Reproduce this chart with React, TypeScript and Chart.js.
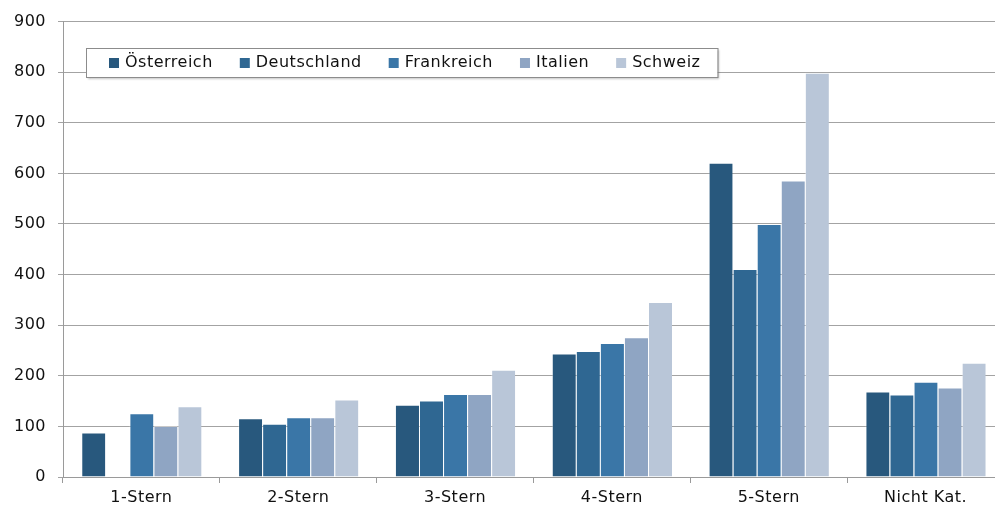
import React, { useEffect, useRef } from "react";
import { Chart, registerables } from "chart.js";

Chart.register(...registerables);

const categories = ["1-Stern", "2-Stern", "3-Stern", "4-Stern", "5-Stern", "Nicht Kat."];
const seriesNames = ["Österreich", "Deutschland", "Frankreich", "Italien", "Schweiz"];
const oesterreich = [88, 116, 143, 244, 621, 169];
const deutschland = [null, 105, 151, 249, 411, 163];
const frankreich = [126, 118, 164, 265, 500, 188];
const italien = [101, 118, 164, 276, 586, 177];
const schweiz = [140, 153, 212, 346, 799, 226];
const seriesColors = ["#28587d", "#2f6792", "#3a76a7", "#8fa5c3", "#b9c6d8"];
const yTicks = [0, 100, 200, 300, 400, 500, 600, 700, 800, 900];

const FONT = "'DejaVu Sans', sans-serif";
const SPACING = "0.5px";

const spacingPlugin = {
  id: "spacing",
  beforeUpdate(chart: any) {
    (chart.ctx as any).letterSpacing = SPACING;
  },
  beforeLayout(chart: any) {
    (chart.ctx as any).letterSpacing = SPACING;
  },
  beforeDraw(chart: any) {
    (chart.ctx as any).letterSpacing = SPACING;
  },
};

const legendPlugin = {
  id: "boxLegend",
  afterDatasetsDraw(chart: any) {
    const ctx = chart.ctx as CanvasRenderingContext2D;
    ctx.save();
    (ctx as any).letterSpacing = SPACING;
    ctx.font = `16px ${FONT}`;
    const left = 86;
    const top = 48;
    const h = 29;
    const padL = 23;
    const sq = 10;
    const gapSq = 6;
    const gapItem = 27;
    const padR = 17;
    let w = padL;
    const widths = seriesNames.map((n) => ctx.measureText(n).width);
    widths.forEach((tw, i) => {
      w += sq + gapSq + tw + (i < widths.length - 1 ? gapItem : padR);
    });
    ctx.shadowColor = "rgba(0,0,0,0.25)";
    ctx.shadowOffsetX = 1.5;
    ctx.shadowOffsetY = 1.5;
    ctx.shadowBlur = 2;
    ctx.fillStyle = "#ffffff";
    ctx.fillRect(left, top, w, h);
    ctx.shadowColor = "transparent";
    ctx.strokeStyle = "#8c8c8c";
    ctx.lineWidth = 1;
    ctx.strokeRect(left + 0.5, top + 0.5, w, h);
    let x = left + padL;
    const cy = top + h / 2 + 0.5;
    ctx.textBaseline = "middle";
    ctx.textAlign = "left";
    seriesNames.forEach((n, i) => {
      ctx.fillStyle = seriesColors[i];
      ctx.fillRect(x, cy - sq / 2, sq, sq);
      x += sq + gapSq;
      ctx.fillStyle = "#111111";
      ctx.fillText(n, x, cy);
      x += widths[i] + gapItem;
    });
    ctx.restore();
  },
};

export default function App() {
  const ref = useRef<HTMLCanvasElement | null>(null);
  useEffect(() => {
    const canvas = ref.current!;
    const values = [oesterreich, deutschland, frankreich, italien, schweiz];
    const chart = new Chart(canvas, {
      type: "bar",
      data: {
        labels: categories,
        datasets: seriesNames.map((name, i) => ({
          label: name,
          data: values[i],
          backgroundColor: seriesColors[i],
          borderColor: "rgba(255,255,255,0.4)",
          borderWidth: { top: 1, left: 1, right: 0, bottom: 0 },
          borderSkipped: false,
          categoryPercentage: 0.767,
          barPercentage: 1,
        })),
      },
      options: {
        responsive: false,
        animation: false,
        devicePixelRatio: 1,
        layout: { padding: { top: 20, right: 8, left: 0, bottom: 0 } },
        plugins: {
          legend: { display: false },
          tooltip: { enabled: false },
        },
        scales: {
          x: {
            grid: {
              display: true,
              drawOnChartArea: false,
              drawTicks: true,
              tickLength: 6,
              color: "#9a9a9a",
              offset: true,
            },
            border: { display: true, color: "#9a9a9a", width: 1 },
            ticks: {
              color: "#111111",
              font: { family: FONT, size: 16 },
              padding: 5,
              maxRotation: 0,
            },
            afterFit: (scale: any) => {
              scale.height = 28;
            },
          },
          y: {
            min: 0,
            max: 900,
            afterBuildTicks: (scale: any) => {
              scale.ticks = yTicks.map((v) => ({ value: v }));
            },
            grid: {
              color: "#a3a3a3",
              lineWidth: 1,
              drawTicks: true,
              tickLength: 5,
            },
            border: { display: true, color: "#9a9a9a", width: 1 },
            ticks: {
              color: "#111111",
              font: { family: FONT, size: 16 },
              padding: 12,
            },
            afterFit: (scale: any) => {
              scale.width = 63;
            },
          },
        },
      },
      plugins: [spacingPlugin, legendPlugin],
    });
    return () => chart.destroy();
  }, []);
  return (
    <div
      style={{
        position: "fixed",
        left: 0,
        top: 0,
        width: 995,
        height: 505,
        overflow: "hidden",
        background: "#ffffff",
      }}
    >
      <canvas ref={ref} width={1012} height={505} style={{ display: "block" }} />
    </div>
  );
}
